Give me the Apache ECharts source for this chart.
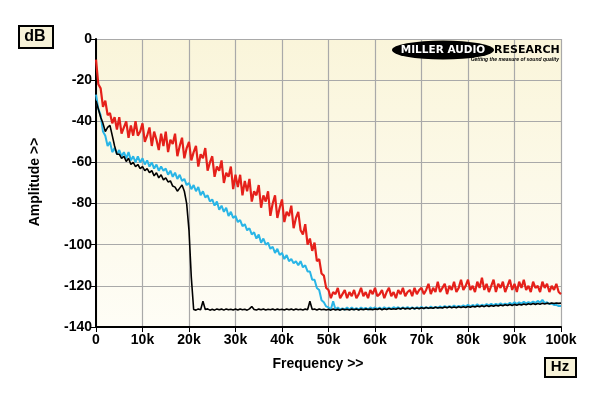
<!DOCTYPE html>
<html>
<head>
<meta charset="utf-8">
<script src="https://cdn.jsdelivr.net/npm/echarts@6/dist/echarts.min.js"></script>
<style>
  html, body { margin: 0; padding: 0; background: #fff; }
  #myChart { width: 600px; height: 396px; }
</style>
</head>
<body>
<div id="myChart"></div>
<script>
// frequency bins: 0 .. 100 kHz, one reading every 500 Hz
const binStepHz = 500

// tick labels
const yTicks = [0, -20, -40, -60, -80, -100, -120, -140]
const xTickLabels = ['0', '10k', '20k', '30k', '40k', '50k', '60k', '70k', '80k', '90k', '100k']

// red trace (dB)
const redLevels = [
  -10, -22, -24, -33, -30, -37, -36, -41, -38, -44,
  -38, -46, -43, -40, -48, -42, -47, -40, -47, -45,
  -41, -50, -47, -43, -52, -45, -49, -54, -46, -52,
  -45, -55, -49, -51, -46, -57, -52, -48, -58, -53,
  -50, -59, -55, -52, -62, -56, -58, -53, -64, -60,
  -57, -67, -62, -64, -59, -70, -65, -67, -62, -73,
  -66, -72, -66, -76, -69, -74, -68, -79, -74, -76,
  -71, -82, -76, -79, -74, -86, -80, -76, -87, -82,
  -78, -89, -84, -86, -81, -92, -87, -84, -93, -95,
  -90, -100, -97, -103, -99, -108, -107, -114, -115, -121,
  -122, -126, -123, -124, -121, -126, -124, -122, -126, -123,
  -125, -122, -126, -124, -121, -125, -123, -126, -122, -124,
  -121, -125, -124, -122, -126, -123, -121, -125, -123, -126,
  -122, -124, -121, -125, -123, -122, -125, -121, -124, -122,
  -121, -124, -122, -119, -124, -121, -123, -118, -123, -121,
  -119, -124, -120, -122, -118, -123, -121, -117, -122, -120,
  -117, -122, -120, -123, -118, -121, -116, -122, -119, -123,
  -120, -117, -123, -119, -121, -118, -123, -120, -117, -122,
  -119, -123, -118, -121, -117, -122, -120, -123, -118, -121,
  -120, -123, -118, -121, -119, -123, -120, -122, -119, -123,
  -124
]

// blue trace (dB)
const blueLevels = [
  -27, -34, -37, -45, -47, -52, -50, -55, -53, -56,
  -54, -57, -55, -58, -55, -59, -57, -60, -57, -60,
  -58, -61, -59, -62, -60, -63, -61, -64, -62, -64,
  -63, -66, -64, -67, -65, -68, -66, -69, -68, -71,
  -70, -73, -71, -74, -72, -76, -74, -77, -76, -79,
  -78, -81, -79, -83, -81, -84, -82, -86, -84, -87,
  -86, -89, -88, -91, -90, -93, -92, -95, -94, -97,
  -95, -99, -97, -100, -99, -102, -101, -104, -102, -105,
  -104, -107, -105, -108, -107, -109, -108, -110, -108, -111,
  -110, -113, -113, -117, -117, -121, -122, -127, -128, -130,
  -130.5, -131.5, -127.5, -131.5, -130.5, -131.5, -131, -131.5, -130.5, -131.5,
  -130.5, -131.5, -130.8, -131.5, -130.5, -131.3, -130.7, -131.5, -130.5, -131.2,
  -130.5, -131.3, -130.6, -131.4, -130.4, -131.2, -130.6, -131.3, -130.4, -131,
  -130.4, -131.2, -130.5, -131.1, -130.3, -131, -130.5, -131.2, -130.4, -131,
  -130.2, -131, -130.3, -130.9, -130.1, -130.8, -130.2, -130.7, -130, -130.6,
  -129.8, -130.5, -129.8, -130.4, -129.6, -130.3, -129.7, -130.2, -129.5, -130.1,
  -129.2, -130, -129.3, -129.9, -129, -129.8, -129.2, -129.7, -128.9, -129.5,
  -128.7, -129.5, -128.8, -129.3, -128.5, -129.2, -128.6, -129.1, -128.3, -129,
  -128, -128.8, -128, -128.6, -127.8, -128.5, -127.9, -128.4, -127.6, -128.3,
  -127.3, -128.2, -126.8, -128.4, -128, -128.8, -128.6, -129.3, -129.2, -129.8,
  -129.8
]

// black trace (dB)
const blackLevels = [
  -30, -34, -38, -41, -45, -43, -42, -47, -52, -56,
  -56, -58, -57, -59.5, -58, -61, -60, -62, -61, -63,
  -62, -64, -63, -65, -64, -66.5, -65, -67.5, -66, -68.5,
  -67.5, -69.5, -69, -71.5, -72, -74, -72.5, -71, -74, -80,
  -93, -116, -131.5, -131.8, -131.2, -131.6, -127.5, -131.5, -131.2, -131.8,
  -131.4, -131.8, -131.2, -131.6, -131.3, -131.8, -131.2, -131.6, -131.4, -131.7,
  -131.3, -131.7, -131.2, -131.6, -131.4, -131.8, -131.2, -130, -131.5, -131.7,
  -131.3, -131.6, -131.2, -131.7, -131.4, -131.6, -131.2, -131.7, -131.3, -131.6,
  -131.4, -131.7, -131.2, -131.6, -131.3, -131.7, -131.2, -131.6, -131.4, -131.7,
  -131.3, -131.6, -127.5, -131.5, -131.3, -131.7, -131.2, -131.6, -131.4, -131.7,
  -131.4, -131.8, -131.3, -131.7, -131.4, -131.8, -131.3, -131.6, -131.4, -131.7,
  -131.3, -131.6, -131.2, -131.7, -131.3, -131.6, -131.2, -131.5, -131.3, -131.6,
  -131.2, -131.5, -131, -131.6, -131.1, -131.5, -131, -131.4, -131.1, -131.4,
  -130.9, -131.3, -130.8, -131.2, -130.9, -131.3, -130.7, -131.1, -130.8, -131.1,
  -130.6, -131, -130.5, -130.9, -130.6, -130.9, -130.4, -130.8, -130.5, -130.8,
  -130.3, -130.7, -130.2, -130.6, -130.3, -130.6, -130.1, -130.5, -130.2, -130.5,
  -130, -130.4, -129.9, -130.3, -129.8, -130.2, -129.7, -130.1, -129.6, -130,
  -129.5, -129.9, -129.4, -129.8, -129.3, -129.7, -129.2, -129.6, -129.1, -129.5,
  -129, -129.4, -128.9, -129.3, -128.8, -129.2, -128.7, -129.1, -128.6, -129,
  -128.6, -128.9, -128.5, -128.8, -128.4, -128.7, -128.3, -128.6, -128.3, -128.5,
  -128.4
]

function toPairs(levels) {
  return levels.map((v, i) => [i * binStepHz, v])
}

const myChart = echarts.init(document.getElementById('myChart'))
const boldFont = 'Liberation Sans, Arial, sans-serif'
const logoFont = 'DejaVu Sans, sans-serif'

myChart.setOption({
  backgroundColor: '#fff',
  animation: false,
  grid: {
    left: 96,
    right: 39,
    top: 39,
    bottom: 69,
    show: true,
    borderWidth: 0,
    backgroundColor: new echarts.graphic.LinearGradient(0, 0, 0, 1, [
      { offset: 0, color: '#faf5da' },
      { offset: 1, color: '#fefdf6' }
    ])
  },
  xAxis: {
    type: 'value',
    min: 0,
    max: 100000,
    interval: 10000,
    axisLine: { show: true, onZero: false, lineStyle: { color: '#000', width: 2 } },
    axisTick: { show: true, length: 5, lineStyle: { color: '#000', width: 1 } },
    axisLabel: {
      color: '#000',
      fontFamily: boldFont,
      fontWeight: 'bold',
      fontSize: 14,
      margin: 6,
      formatter: (v) => xTickLabels[Math.round(v / 10000)]
    },
    splitLine: { show: true, lineStyle: { color: '#a9a9a9', width: 1.2 } }
  },
  yAxis: {
    type: 'value',
    min: yTicks[yTicks.length - 1],
    max: yTicks[0],
    interval: 20,
    axisLine: { show: true, onZero: false, lineStyle: { color: '#000', width: 2 } },
    axisTick: { show: true, length: 5, lineStyle: { color: '#000', width: 1 } },
    axisLabel: {
      color: '#000',
      fontFamily: boldFont,
      fontWeight: 'bold',
      fontSize: 14,
      margin: 4
    },
    splitLine: { show: true, lineStyle: { color: '#a9a9a9', width: 1.2 } }
  },
  graphic: [
    // dB box
    {
      type: 'rect', left: 18, top: 25,
      shape: { width: 34, height: 22 },
      style: { fill: '#f7f2d8', stroke: '#000', lineWidth: 2 }
    },
    {
      type: 'text', x: 35, y: 37,
      style: { text: 'dB', font: 'bold 16px ' + boldFont, fill: '#000', align: 'center', verticalAlign: 'middle' }
    },
    // Hz box
    {
      type: 'rect', left: 544, top: 357,
      shape: { width: 31, height: 19 },
      style: { fill: '#f7f2d8', stroke: '#000', lineWidth: 2 }
    },
    {
      type: 'text', x: 560, y: 367,
      style: { text: 'Hz', font: 'bold 15px ' + boldFont, fill: '#000', align: 'center', verticalAlign: 'middle' }
    },
    // axis titles
    {
      type: 'text', x: 318, y: 364,
      style: { text: 'Frequency >>', font: 'bold 14px ' + boldFont, fill: '#000', align: 'center', verticalAlign: 'middle' }
    },
    {
      type: 'text', x: 35, y: 182, rotation: Math.PI / 2,
      style: { text: 'Amplitude >>', font: 'bold 14px ' + boldFont, fill: '#000', align: 'center', verticalAlign: 'middle' }
    },
    // logo
    {
      type: 'circle', x: 443, y: 50, scaleX: 5.1, scaleY: 0.95, z: 10,
      shape: { cx: 0, cy: 0, r: 10 },
      style: { fill: '#000' }
    },
    {
      type: 'text', x: 443, y: 50, z: 11,
      style: { text: 'MILLER AUDIO', font: 'bold 10.5px ' + logoFont, fill: '#fff', align: 'center', verticalAlign: 'middle' }
    },
    {
      type: 'text', x: 494, y: 50, z: 11,
      style: { text: 'RESEARCH', font: 'bold 11px ' + logoFont, fill: '#000', align: 'left', verticalAlign: 'middle' }
    },
    {
      type: 'text', x: 559, y: 60, z: 11,
      style: { text: 'Getting the measure of sound quality', font: 'italic bold 5px ' + boldFont, fill: '#000', align: 'right', verticalAlign: 'middle' }
    }
  ],
  series: [
    {
      name: 'blue',
      type: 'line',
      showSymbol: false,
      data: toPairs(blueLevels),
      lineStyle: { color: '#29b5e6', width: 2 },
      z: 2
    },
    {
      name: 'black',
      type: 'line',
      showSymbol: false,
      data: toPairs(blackLevels),
      lineStyle: { color: '#000', width: 1.6 },
      z: 3
    },
    {
      name: 'red',
      type: 'line',
      showSymbol: false,
      data: toPairs(redLevels),
      lineStyle: { color: '#e5201a', width: 2.2 },
      z: 4
    }
  ]
})

window.addEventListener('resize', () => { myChart.resize() })
</script>
</body>
</html>
